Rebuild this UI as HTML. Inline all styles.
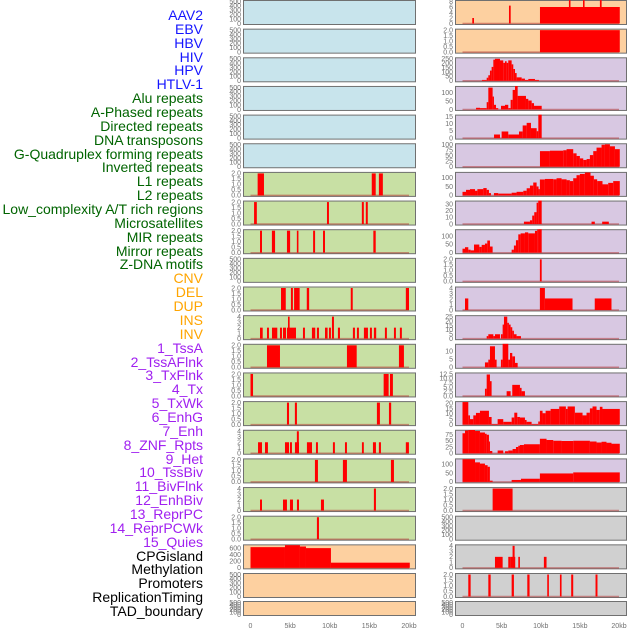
<!DOCTYPE html>
<html><head><meta charset="utf-8">
<style>
html,body{margin:0;padding:0;background:#fff;width:630px;height:630px;overflow:hidden}
#labels{position:absolute;left:0;top:0;width:203px;height:630px}
.lab{position:absolute;right:0;font-family:"Liberation Sans",sans-serif;font-size:14px;line-height:14px;white-space:nowrap;text-align:right}
svg{position:absolute;left:0;top:0}
</style></head><body>
<div id="labels"></div>
<svg id="chart" width="630" height="630"></svg>
<script>
const labelNames=["AAV2","EBV","HBV","HIV","HPV","HTLV-1","Alu repeats","A-Phased repeats","Directed repeats","DNA transposons","G-Quadruplex forming repeats","Inverted repeats","L1 repeats","L2 repeats","Low_complexity A/T rich regions","Microsatellites","MIR repeats","Mirror repeats","Z-DNA motifs","CNV","DEL","DUP","INS","INV","1_TssA","2_TssAFlnk","3_TxFlnk","4_Tx","5_TxWk","6_EnhG","7_Enh","8_ZNF_Rpts","9_Het","10_TssBiv","11_BivFlnk","12_EnhBiv","13_ReprPC","14_ReprPCWk","15_Quies","CPGisland","Methylation","Promoters","ReplicationTiming","TAD_boundary"];
const labelColors=["#1515ff","#1515ff","#1515ff","#1515ff","#1515ff","#1515ff","#006400","#006400","#006400","#006400","#006400","#006400","#006400","#006400","#006400","#006400","#006400","#006400","#006400","#ffa500","#ffa500","#ffa500","#ffa500","#ffa500","#a020f0","#a020f0","#a020f0","#a020f0","#a020f0","#a020f0","#a020f0","#a020f0","#a020f0","#a020f0","#a020f0","#a020f0","#a020f0","#a020f0","#a020f0","#000","#000","#000","#000","#000"];

const T500=[0,100,200,300,400,500];
const T2=[0,0.5,1,1.5,2];
const T4=[0,1,2,3,4];
const T600=[0,200,400,600];
const T8=[0,2,4,6,8];
const T250=[0,50,100,150,200,250];
const T100=[0,50,100];
const T15=[0,5,10,15];
const T100q=[0,25,50,75,100];
const T30=[0,10,20,30];
const T25=[0,5,10,15,20,25];
const T10=[0,5,10];
const T12=[0,2.5,5,7.5,10,12.5];
const T20=[0,5,10,15,20];
const T75=[0,25,50,75];

const leftTicks=[T500,T500,T500,T500,T500,T500,T2,T2,T2,T500,T2,T4,T2,T2,T2,T4,T2,T4,T2,T600,T500,T500];
const leftMax=[500,500,500,500,500,500,2,2,2,500,2,4,2,2,2,4,2,4,2,680,500,500];
const rightTicks=[T8,T2,T250,T100,T15,T100q,T100,T30,T100,T2,T4,T25,T10,T12,T20,T75,T100,T2,T500,T4,T2,T500];
const rightMax=[8,2,250,133,15.3,100,123,33,132,2,4,25,13.5,12.5,20.5,88,125,2,500,4,2,500];
const leftFill=["#c8e4ec","#c8e4ec","#c8e4ec","#c8e4ec","#c8e4ec","#c8e4ec","#c8e0a4","#c8e0a4","#c8e0a4","#c8e0a4","#c8e0a4","#c8e0a4","#c8e0a4","#c8e0a4","#c8e0a4","#c8e0a4","#c8e0a4","#c8e0a4","#c8e0a4","#fdd0a0","#fdd0a0","#fdd0a0"];
const rightFill=["#fdd0a0","#fdd0a0","#d8c8e2","#d8c8e2","#d8c8e2","#d8c8e2","#d8c8e2","#d8c8e2","#d8c8e2","#d8c8e2","#d8c8e2","#d8c8e2","#d8c8e2","#d8c8e2","#d8c8e2","#d8c8e2","#d8c8e2","#d0d0d0","#d0d0d0","#d0d0d0","#d0d0d0","#d0d0d0"];

// bars: [startKb, endKb, value]
const L6=[[0.9,1.7,2],[15.3,15.8,2],[16.2,16.7,2]];
const L7=[[0.45,0.8,2],[9.65,9.9,2],[14.05,14.3,2],[14.55,14.8,2]];
const L8=[[1.2,1.45,2],[2.7,3.1,2],[4.6,5.0,2],[5.85,6.05,2],[7.9,8.15,2],[9.15,9.4,2],[15.5,15.8,2]];
const L10=[[3.85,4.45,2],[5.1,5.35,2],[5.5,6.2,2],[7.1,7.4,2],[12.65,12.9,2],[19.6,20.0,2]];
const L11=[[1.2,1.54,2],[2.08,2.33,2],[2.71,3.38,2],[3.72,3.97,2],[4.1,4.48,2],[4.6,5.74,2],[4.73,4.94,4],[6.62,6.87,2],[7.75,8.17,2],[8.38,8.64,2],[9.4,9.73,2],[9.9,10.15,2],[10.28,10.53,4],[11.03,11.29,2],[12.92,13.18,2],[13.43,13.68,2],[14.31,14.82,2],[15.07,15.32,2],[15.57,15.86,2],[16.96,17.21,2],[18.1,18.35,2],[18.85,19.1,2]];
const L12=[[2.08,3.72,2],[12.17,13.4,2],[18.73,19.36,2]];
const L13=[[0,0.32,2],[16.8,17.43,2],[17.6,17.97,2]];
const L14=[[4.6,4.86,2],[5.6,5.86,2],[15.95,16.33,2],[17.47,17.75,2]];
const L15=[[0.95,1.45,2],[1.83,2.2,2],[4.35,4.86,2],[4.98,5.23,2],[5.61,6.12,2],[5.85,6.1,4],[7.12,7.76,2],[8.26,8.51,2],[10.4,10.65,2],[11.92,12.17,2],[14.06,14.3,2],[15.45,15.83,2],[16.2,16.46,2],[19.6,19.99,2]];
const L16=[[8.13,8.51,2],[11.66,12.17,2],[17.72,18.1,2]];
const L17=[[1.2,1.45,2],[4.1,4.6,2],[4.98,5.36,2],[5.86,6.12,2],[8.89,9.27,2],[15.57,15.83,4]];
const L18=[[8.38,8.64,2]];
const L19=[[0,4.35,640],[4.35,6.24,700],[6.24,7.0,660],[7.0,10.15,610],[10.15,20.1,160]];
const leftBars=[null,null,null,null,null,null,L6,L7,L8,null,L10,L11,L12,L13,L14,L15,L16,L17,L18,L19,null,null];

const R0=[[1.25,1.47,2],[5.94,6.16,6.5],[9.9,20.1,6],[13.6,13.8,8.5],[15.4,15.6,8.5],[17.56,17.78,8.5]];
const R1=[[9.9,20.1,2]];
const R2=[[2.49,3.09,10],[3.09,3.3,35],[3.3,3.51,63],[3.51,3.72,116],[3.72,3.94,158],[3.94,4.15,240],[4.15,4.79,250],[4.79,5.21,232],[5.21,5.43,204],[5.43,5.64,222],[5.64,5.85,204],[5.85,6.28,232],[6.28,6.49,187],[6.49,6.71,134],[6.71,6.92,88],[6.92,7.56,39],[7.56,7.98,25],[7.98,8.41,10],[8.41,9.26,21],[9.26,9.77,10]];
const R3=[[1.73,2.24,10],[2.24,3.09,8],[3.09,3.3,44],[3.3,3.85,132],[3.85,4.02,78],[4.02,4.28,28],[4.28,4.57,8],[4.92,5.43,22],[5.43,5.85,28],[5.85,6.15,8],[6.15,6.41,58],[6.41,6.71,118],[6.71,7.05,142],[7.05,8.11,82],[8.11,8.41,64],[8.41,8.84,54],[8.84,9.14,38],[9.14,10.12,22]];
const R4=[[4.03,4.79,2.5],[5.0,5.85,4.6],[5.85,7.22,2.5],[7.22,7.69,4.6],[7.69,8.2,8.8],[8.2,8.75,10.6],[8.75,9.48,6.9],[9.48,9.69,4.8],[9.69,10.12,16.4]];
const R5=[[9.9,11.17,71],[11.17,12.88,73],[12.88,13.3,75],[13.3,14.15,80],[14.15,14.58,61],[14.58,15.0,49],[15.0,15.43,38],[15.43,15.86,31],[15.86,16.28,35],[16.28,16.71,53],[16.71,17.13,71],[17.13,17.77,87],[17.77,18.2,100],[18.2,18.84,102],[18.84,19.48,93],[19.48,20.1,80]];
const R6=[[0,0.45,20],[0.45,0.96,31],[0.96,1.6,35],[1.6,1.9,26],[1.9,2.66,35],[2.66,3.09,41],[3.09,3.38,31],[3.38,3.64,13],[4.02,4.57,13],[4.57,6.28,10],[6.28,6.91,15],[6.91,7.77,20],[7.77,8.2,26],[8.2,8.62,40],[8.62,9.04,55],[9.04,9.47,72],[9.47,9.72,50],[9.72,9.89,35],[9.89,10.53,89],[10.53,11.6,92],[11.6,12.02,90],[12.02,12.66,96],[12.66,13.3,90],[13.3,13.72,85],[13.72,14.15,80],[14.15,14.57,96],[14.57,15.0,113],[15.0,15.64,120],[15.64,16.36,128],[16.36,16.79,110],[16.79,17.21,90],[17.21,17.89,80],[17.89,18.62,62],[18.62,19.26,70],[19.26,20.1,80]];
const R7=[[7.85,8.62,3.6],[8.62,8.91,5.6],[8.91,9.17,12.7],[9.17,9.47,17.8],[9.47,9.68,32],[9.68,10.12,36],[16.49,16.91,3.6],[17.85,18.7,3.6]];
const R8=[[0,0.32,24],[0.32,0.74,33],[0.74,1.04,18],[1.04,1.47,14],[1.47,2.15,49],[2.15,2.45,35],[2.45,2.87,47],[2.87,3.17,55],[3.17,3.51,73],[3.51,3.85,37],[6.28,6.57,18],[6.57,6.83,43],[6.83,7.13,75],[7.13,7.43,110],[7.43,7.98,116],[7.98,8.4,122],[8.4,9.26,116],[9.26,9.55,131],[9.55,9.77,141],[9.77,10.12,147]];
const R9=[[9.89,10.12,2]];
const R10=[[0.32,0.74,2.1],[9.89,10.53,4],[10.53,14.06,2.1],[16.9,19.04,2.1]];
const R11=[[3.09,3.3,2.9],[3.3,3.94,5],[3.94,4.15,2.9],[4.15,4.79,5],[4.91,5.13,5],[5.13,5.3,16],[5.3,5.72,25],[5.72,5.93,18],[5.93,6.15,16],[6.15,6.36,13],[6.36,6.57,9],[6.57,6.91,5],[6.91,7.47,2.9]];
const R12=[[2.87,3.3,3],[3.3,3.51,4.7],[3.51,4.15,12.9],[4.15,4.36,4.7],[4.91,5.13,4.7],[5.13,5.85,14.5],[5.85,6.07,4.7],[6.07,6.36,8.8],[6.36,6.71,6.7],[6.71,7.05,2.7]];
const R13=[[2.87,3.09,4.1],[3.09,3.51,12.2],[3.51,3.72,8.4],[5.64,6.15,2.7],[6.36,7.34,6.3],[7.34,7.55,4.6],[7.55,7.98,2.7]];
const R14=[[0,0.74,21],[0.74,0.96,8.6],[0.96,1.38,5.1],[1.38,1.72,8.6],[1.72,2.23,10.9],[2.23,3.38,12.9],[3.38,3.72,7.1],[3.72,4.49,0.6],[4.49,5.21,5.1],[5.21,6.28,2.6],[6.28,6.62,6.6],[6.62,7.0,11.1],[7.0,7.34,7.1],[7.34,7.98,6.6],[7.98,8.19,4.3],[8.19,8.83,2.6],[8.83,9.68,0.6],[9.68,9.89,2.9],[9.89,10.23,12.9],[10.23,10.62,10.6],[10.62,11.26,12.9],[11.26,12.36,14.6],[12.36,13.21,16.9],[13.21,13.43,14.6],[13.43,14.36,16.9],[14.36,15.34,11.1],[15.34,15.85,8.6],[15.85,16.28,11.1],[16.28,16.62,15.1],[16.62,17.13,16.9],[17.13,17.55,13.7],[17.55,17.89,16.6],[17.89,20.1,14.6]];
const R15=[[0,0.32,80],[0.32,0.74,91],[0.74,1.6,93],[1.6,2.23,89],[2.23,2.87,83],[2.87,3.09,78],[3.09,3.38,74],[3.38,3.51,47],[3.51,3.81,9],[4.49,5.21,11],[5.43,5.85,8],[5.85,6.4,11],[6.4,6.83,17],[6.83,7.13,25],[7.13,7.34,30],[7.34,7.85,33],[7.85,9.89,36],[9.89,10.74,58],[10.74,11.6,53],[11.6,12.66,50],[12.66,14.15,49],[14.15,16.28,50],[16.28,17.13,47],[17.13,17.77,43],[17.77,18.4,46],[18.4,19.04,42],[19.04,20.1,38]];
const R16=[[0,1.6,129],[1.6,2.23,111],[2.23,2.87,104],[2.87,3.21,95],[3.21,3.5,86],[3.5,3.85,7],[6.28,7.47,11],[7.47,9.89,18],[9.89,14.15,48],[14.15,20.1,54]];
const R17=[[3.85,6.4,2]];
const R19=[[4.15,5.13,2],[5.85,6.15,2],[6.15,6.74,2],[6.4,6.66,4],[7.13,7.34,2],[10.4,10.74,2]];
const R20=[[0.74,1.04,2],[3.3,3.6,2],[6.28,6.57,2],[8.28,8.57,2],[10.83,11.04,2],[12.45,12.66,2],[13.89,14.15,2],[17.0,17.25,2]];
const rightBars=[R0,R1,R2,R3,R4,R5,R6,R7,R8,R9,R10,R11,R12,R13,R14,R15,R16,R17,null,R19,R20,null];

const xTickKb=[0,5,10,15,20];
const xTickLabels=["0","5kb","10kb","15kb","20kb"];

const NS="http://www.w3.org/2000/svg";
const svg=document.getElementById('chart');
function mk(tag,attrs,parent){const e=document.createElementNS(NS,tag);for(const k in attrs)e.setAttribute(k,attrs[k]);(parent||svg).appendChild(e);return e;}

const labDiv=document.getElementById('labels');
labelNames.forEach((n,i)=>{
  const d=document.createElement('div');
  d.className='lab';
  d.style.top=(15+i*13.86-7)+'px';
  d.style.color=labelColors[i];
  d.textContent=n;
  
  
  labDiv.appendChild(d);
});

const cols=[{x0:243,x1:416,k0:250.5,k1:409,ticks:leftTicks,max:leftMax,fill:leftFill,bars:leftBars,side:'left'},
            {x0:455,x1:627,k0:462.5,k1:619,ticks:rightTicks,max:rightMax,fill:rightFill,bars:rightBars,side:'right'}];
function rowTop(i){return i<21?i*28.65:601;}
function rowH(i){return i<21?25:15;}
function fmt(t,ticks){const dec=ticks.some(v=>v%1!==0);return dec?t.toFixed(1):String(t);}

cols.forEach(c=>{
  const xs=kb=>c.k0+(c.k1-c.k0)*kb/20;
  for(let i=0;i<22;i++){
    const top=rowTop(i),h=rowH(i);
    const base=top+h-1.5,yt=top+1.5;
    const ys=v=>base-(base-yt)*v/c.max[i];
    const g=mk('g',{});
    
    
    const clipId='cp'+c.side+i;
    const cp=mk('clipPath',{id:clipId},g);
    mk('rect',{x:c.x0,y:top,width:c.x1-c.x0,height:h},cp);
    const bg=mk('rect',{x:c.x0+0.5,y:top+0.5,width:c.x1-c.x0-1,height:h-1,fill:c.fill[i],stroke:'#707070','stroke-width':1},g);
    
    
    const bars=c.bars[i];
    const bg2=mk('g',{'clip-path':'url(#'+clipId+')'},g);
    if(bars){
      const bl=mk('line',{x1:xs(0),x2:xs(20),y1:base,y2:base,stroke:'#b03030','stroke-opacity':0.5,'stroke-width':1.5},bg2);
      
      
      bars.forEach(b=>{
        const y=ys(b[2]);
        const r=mk('rect',{x:xs(b[0]),y:y,width:Math.max(0.8,xs(b[1])-xs(b[0])),height:Math.max(0,base-y),fill:'#ff0000'},bg2);
        
        
      });
    }
    c.ticks[i].forEach(t=>{
      const tx=mk('text',{x:c.x0-2,y:ys(t)+2.3,'text-anchor':'end','font-family':'Liberation Sans, sans-serif','font-size':7,fill:'#707070'});
      tx.textContent=fmt(t,c.ticks[i]);
      
      
    });
  }
  xTickKb.forEach((k,j)=>{
    const tx=mk('text',{x:xs(k),y:628,'text-anchor':'middle','font-family':'Liberation Sans, sans-serif','font-size':7,fill:'#707070'});
    tx.textContent=xTickLabels[j];
    
    
  });
});
</script>
</body></html>
